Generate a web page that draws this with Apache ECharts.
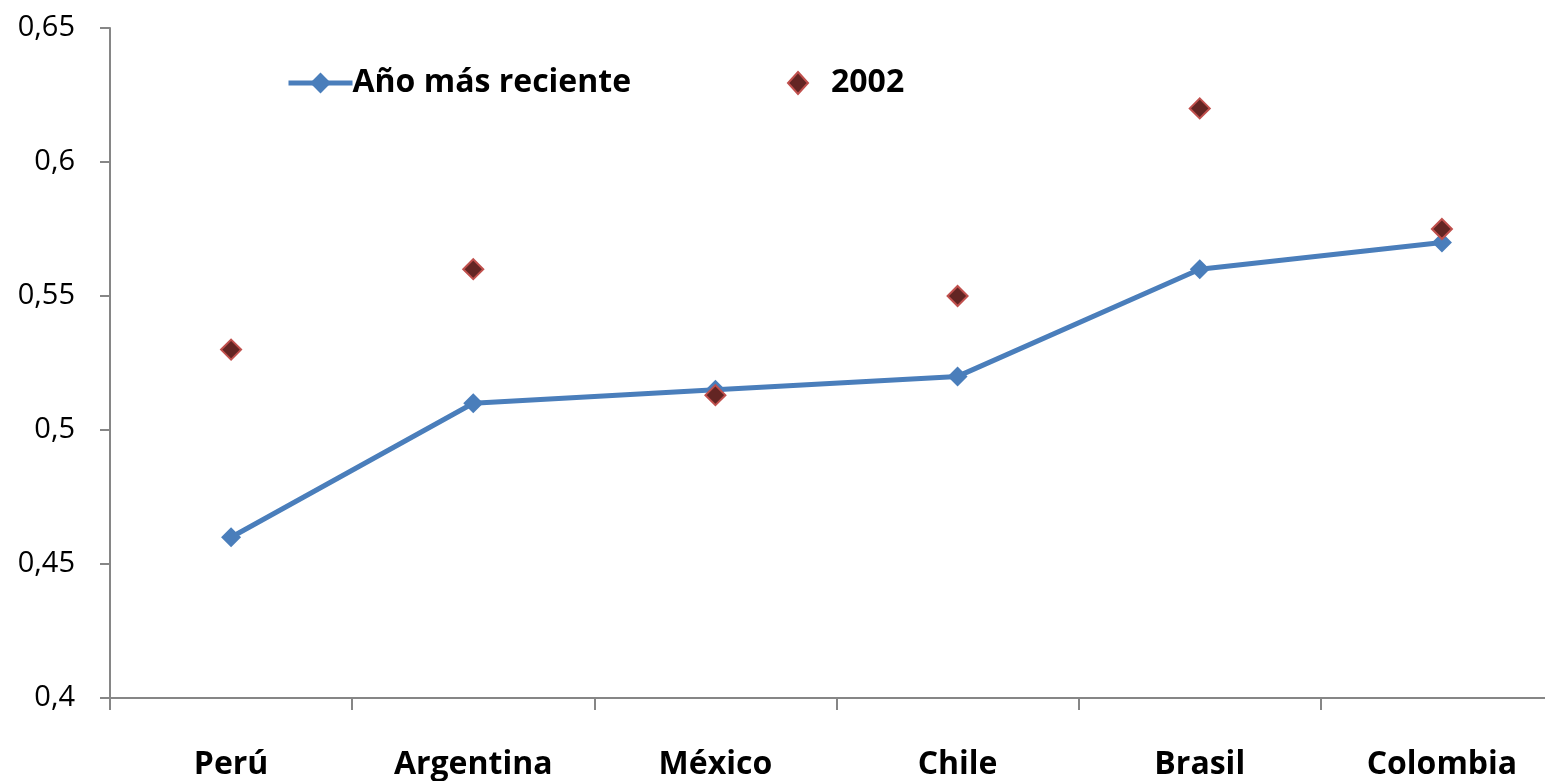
<!DOCTYPE html>
<html>
<head>
<meta charset="utf-8">
<script src="https://cdn.jsdelivr.net/npm/echarts@6/dist/echarts.min.js"></script>
<style>
  html, body { margin: 0; padding: 0; background: #fff; overflow: hidden; }
  #chart { width: 1563px; height: 781px; }
</style>
</head>
<body>
<div id="chart"></div>
<script>
const categories = ['Perú', 'Argentina', 'México', 'Chile', 'Brasil', 'Colombia']
const recentValues = [0.46, 0.51, 0.515, 0.52, 0.56, 0.57]
const values2002 = [0.53, 0.56, 0.513, 0.55, 0.62, 0.575]
const yTicks = [0.4, 0.45, 0.5, 0.55, 0.6, 0.65]

const axisGray = '#868686'
const fontFamily = '"Open Sans", Lato, sans-serif'

const chart = echarts.init(document.getElementById('chart'))

function fmt(v) {
  return String(Math.round(v * 100) / 100).replace('.', ',')
}

chart.setOption({
  animation: false,
  textStyle: { fontFamily },
  legend: [
    {
      data: ['Año más reciente'],
      left: 281,
      top: 62,
      itemWidth: 64,
      itemHeight: 26,
      itemGap: 0,
      lineStyle: { width: 5 },
      textStyle: { fontSize: 32, fontWeight: 'bold', color: '#000', padding: [0, 0, 0, -5] }
    },
    {
      data: ['2002'],
      left: 782,
      top: 62,
      itemWidth: 20,
      itemHeight: 22,
      itemStyle: { opacity: 1 },
      textStyle: { fontSize: 32, fontWeight: 'bold', color: '#000', padding: [0, 0, 0, 18] }
    }
  ],
  grid: { left: 110, top: 28, right: 0, bottom: 83 },
  xAxis: {
    type: 'category',
    data: categories,
    boundaryGap: true,
    axisLine: { lineStyle: { color: axisGray, width: 2 } },
    axisTick: { show: true, length: 12, lineStyle: { color: axisGray, width: 2 } },
    axisLabel: { fontSize: 32, fontWeight: 'bold', color: '#000', margin: 51 }
  },
  yAxis: {
    type: 'value',
    min: yTicks[0],
    max: yTicks[yTicks.length - 1],
    interval: 0.05,
    splitLine: { show: false },
    axisLine: { show: true, lineStyle: { color: axisGray, width: 2 } },
    axisTick: { show: true, length: 10, lineStyle: { color: axisGray, width: 2 } },
    axisLabel: { fontSize: 29, color: '#000', margin: 35, formatter: fmt }
  },
  series: [
    {
      name: 'Año más reciente',
      type: 'line',
      data: recentValues,
      symbol: 'diamond',
      symbolSize: 20,
      lineStyle: { color: '#4A7EBB', width: 5 },
      itemStyle: { color: '#4A7EBB' },
      z: 2
    },
    {
      name: '2002',
      type: 'scatter',
      data: values2002,
      symbol: 'diamond',
      symbolSize: 20,
      itemStyle: { color: '#632523', borderColor: '#C0504D', borderWidth: 2, opacity: 1 },
      z: 3
    }
  ]
})
</script>
</body>
</html>
